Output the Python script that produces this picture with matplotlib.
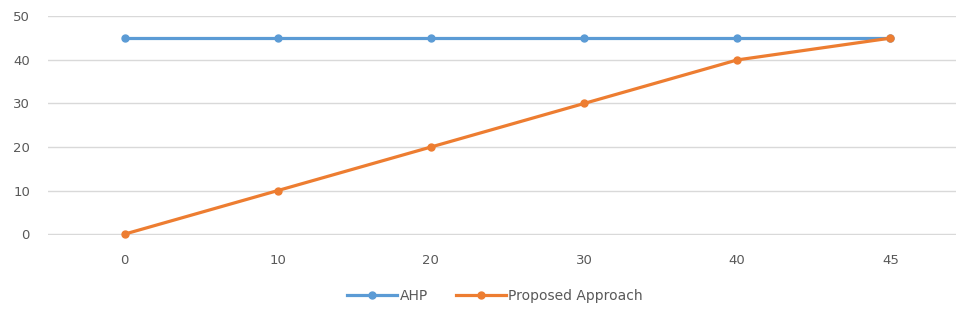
import matplotlib.pyplot as plt

categories = ["0", "10", "20", "30", "40", "45"]
ahp = [45, 45, 45, 45, 45, 45]
proposed = [0, 10, 20, 30, 40, 45]

fig = plt.figure(figsize=(9.56, 3.21), dpi=100)
ax = fig.add_axes([48 / 956, 86 / 321, 919 / 956, 219.5 / 321])

x = range(len(categories))
ax.plot(x, ahp, color="#5B9BD5", lw=2.3, marker="o", ms=5, label="AHP", clip_on=False)
ax.plot(x, proposed, color="#ED7D31", lw=2.3, marker="o", ms=5, label="Proposed Approach", clip_on=False)

ax.set_xlim(-0.5, len(categories) - 0.5)
ax.set_ylim(-0.2, 50.2)
ax.set_yticks(range(0, 51, 10))
ax.set_xticks(list(x))
ax.set_xticklabels(categories)
ax.grid(axis="y", color="#D9D9D9", lw=1)
ax.set_axisbelow(True)
for s in ax.spines.values():
    s.set_visible(False)
ax.tick_params(axis="y", length=0, pad=13, labelsize=9.5, labelcolor="#595959")
ax.tick_params(axis="x", length=0, pad=14, labelsize=9.5, labelcolor="#595959")

fig.legend(loc="center", bbox_to_anchor=(495 / 956, 25 / 321), ncol=2, frameon=False,
           fontsize=10, labelcolor="#595959", handlelength=3.6, handletextpad=0.2,
           columnspacing=2)

fig.savefig("out.png")
